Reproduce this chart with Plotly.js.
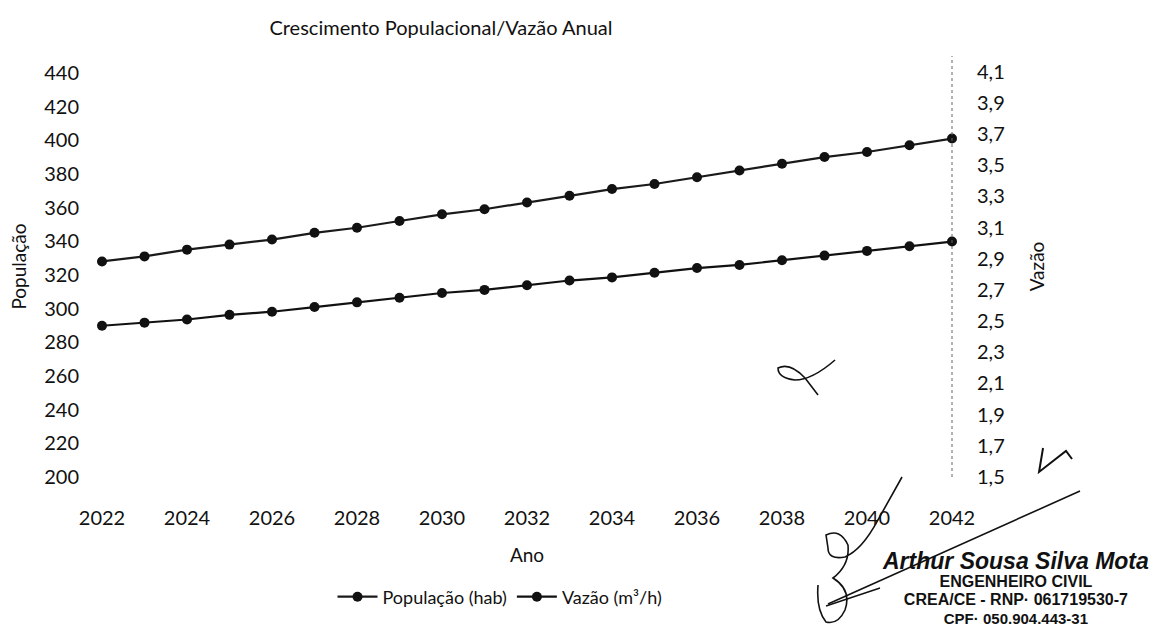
<!DOCTYPE html>
<html>
<head>
<meta charset="utf-8">
<script src="https://cdn.plot.ly/plotly-3.0.1.min.js"></script>
<style>
html,body{margin:0;padding:0;background:#fff;}
#chart{width:1158px;height:627px;}
</style>
</head>
<body>
<div id="chart"></div>
<script>
// ---- data ----
const anos = [2022,2023,2024,2025,2026,2027,2028,2029,2030,2031,2032,2033,2034,2035,2036,2037,2038,2039,2040,2041,2042];
const populacao = [328,331,335,338,341,345,348,352,356,359,363,367,371,374,378,382,386,390,393,397,401];
const vazao = [2.47,2.49,2.51,2.54,2.56,2.59,2.62,2.65,2.68,2.70,2.73,2.76,2.78,2.81,2.84,2.86,2.89,2.92,2.95,2.98,3.01];
const xTicks = [2022,2024,2026,2028,2030,2032,2034,2036,2038,2040,2042];
const yTicks = [200,220,240,260,280,300,320,340,360,380,400,420,440];
const y2Ticks = [1.5,1.7,1.9,2.1,2.3,2.5,2.7,2.9,3.1,3.3,3.5,3.7,3.9,4.1];
const y2Labels = ["1,5","1,7","1,9","2,1","2,3","2,5","2,7","2,9","3,1","3,3","3,5","3,7","3,9","4,1"];
const titulo = "Crescimento Populacional/Vazão Anual";
const carimbo = ["Arthur Sousa Silva Mota","ENGENHEIRO CIVIL","CREA/CE - RNP· 061719530-7","CPF· 050.904.443-31"];

// ---- layout geometry (pixels) ----
const W = 1158, H = 627;
const L = 102, R = 952, T = 56, B = 477;
const FONT = "Lato, 'Open Sans', sans-serif";
function px(x){ return (x - L) / (R - L); }
function py(y){ return (B - y) / (B - T); }
function path(pts){
  return pts.map(p => {
    const c = p[0]; const nums = [];
    for (let i = 1; i < p.length; i += 2) nums.push(px(p[i]).toFixed(4) + ',' + py(p[i+1]).toFixed(4));
    return c + ' ' + nums.join(' ');
  }).join(' ');
}

const traces = [
  {x: anos, y: populacao, name: 'População (hab)', type: 'scatter', mode: 'lines+markers',
   line: {color: '#1a1a1a', width: 2.2}, marker: {color: '#111', size: 10, symbol: 'circle'},
   cliponaxis: false},
  {x: anos, y: vazao, name: 'Vazão (m³/h)', type: 'scatter', mode: 'lines+markers', yaxis: 'y2',
   line: {color: '#111', width: 2.2}, marker: {color: '#111', size: 10, symbol: 'circle'},
   cliponaxis: false}
];

const sigColor = '#111';
const shapes = [
  {type: 'line', xref: 'paper', yref: 'paper', x0: 1, x1: 1, y0: 0, y1: 1,
   line: {color: '#666', width: 1, dash: 'dot'}},
  {type: 'path', xref: 'paper', yref: 'paper', line: {color: sigColor, width: 1.6},
   path: path([['M',828,604],['L',1080,491]])},
  {type: 'path', xref: 'paper', yref: 'paper', line: {color: sigColor, width: 1.4},
   path: path([['M',826,606],['L',880,588]])},
  // "B" signature
  {type: 'path', xref: 'paper', yref: 'paper', line: {color: sigColor, width: 1.6},
   path: path([['M',902,477],['L',878,520],['Q',862,550,845,557],['Q',828,560,828,548],
               ['L',826,535],['Q',840,528,848,545],['Q',850,565,833,578],['Q',852,590,845,610],
               ['Q',838,625,826,622],['Q',816,610,818,585]])},
  // mark near 2040
  {type: 'path', xref: 'paper', yref: 'paper', line: {color: sigColor, width: 1.6},
   path: path([['M',835,360],['Q',812,380,795,380],['Q',778,378,778,368],['Q',790,362,805,378],['L',818,395]])},
  // mark at right
  {type: 'path', xref: 'paper', yref: 'paper', line: {color: sigColor, width: 2},
   path: path([['M',1043,448],['L',1039,472],['L',1066,451],['L',1072,459]])}
];

const stampFont = "'Liberation Sans', Arial, sans-serif";
const stampText =
  '<span style="font-size:23px"><i>' + carimbo[0] + '</i></span><br>' +
  '<span style="font-size:16px">' + carimbo[1] + '</span><br>' +
  '<span style="font-size:16px">' + carimbo[2] + '</span><br>' +
  '<span style="font-size:15px">' + carimbo[3] + '</span>';
const annotations = [
  {text: '<b>' + stampText + '</b>', x: px(1016), y: py(628), xref: 'paper', yref: 'paper',
   xanchor: 'center', yanchor: 'bottom', align: 'center', showarrow: false, borderpad: 0,
   font: {family: stampFont, size: 14, color: '#111'}}
];

const layout = {
  width: W, height: H,
  margin: {l: L, r: W - R, t: T, b: H - B, pad: 0},
  paper_bgcolor: '#fff', plot_bgcolor: '#fff',
  font: {family: FONT, color: '#111', size: 19},
  title: {text: titulo, x: px(441), xref: 'paper', xanchor: 'center', y: 1 - 28 / H, yanchor: 'middle',
          font: {family: FONT, size: 20, color: '#111'}},
  showlegend: true,
  legend: {orientation: 'h', x: px(500), xanchor: 'center', y: py(597), yanchor: 'middle',
           font: {family: FONT, size: 18, color: '#111'}, itemwidth: 40, bgcolor: 'rgba(0,0,0,0)'},
  xaxis: {range: [2022, 2042], tickvals: xTicks, ticktext: xTicks.map(String), showgrid: false, zeroline: false,
          showline: false, ticks: '', ticklabelstandoff: 27, tickfont: {family: FONT, size: 20, color: '#111'},
          title: {text: 'Ano', standoff: 20, font: {family: FONT, size: 19, color: '#111'}}},
  yaxis: {range: [200, 450], tickvals: yTicks, ticktext: yTicks.map(String), showgrid: false, zeroline: false,
          showline: false, ticks: '', ticklabelstandoff: 22, tickfont: {family: FONT, size: 20, color: '#111'},
          title: {text: 'População', standoff: 12, font: {family: FONT, size: 19, color: '#111'}}},
  yaxis2: {range: [1.5, 4.2], overlaying: 'y', side: 'right', tickvals: y2Ticks, ticktext: y2Labels,
           showgrid: false, zeroline: false, showline: false, ticks: '', ticklabelstandoff: 24,
           tickfont: {family: FONT, size: 20, color: '#111'},
           title: {text: 'Vazão', standoff: 26, font: {family: FONT, size: 19, color: '#111'}}},
  shapes: shapes,
  annotations: annotations
};

Plotly.newPlot('chart', traces, layout, {displayModeBar: false, staticPlot: true});
</script>
</body>
</html>
